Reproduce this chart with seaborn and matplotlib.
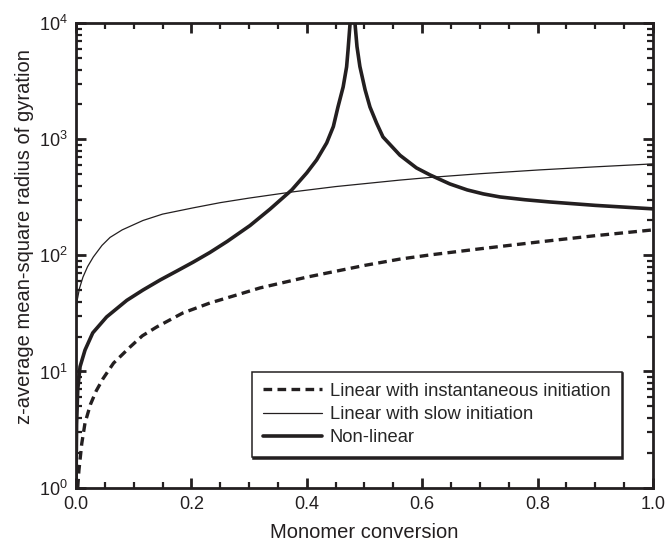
import numpy as np
import pandas as pd
import matplotlib
matplotlib.use("Agg")
import matplotlib.pyplot as plt
import seaborn as sns
from matplotlib.ticker import MultipleLocator, LogLocator

# ---- data ----
x_inst = [0.003, 0.005, 0.01, 0.0156, 0.025, 0.035, 0.047, 0.065, 0.094, 0.115, 0.14, 0.185,
          0.232, 0.279, 0.319, 0.4, 0.5, 0.5615, 0.6135, 0.7, 0.804, 0.9, 1.0]
y_inst = [1.0, 1.4, 2.4, 3.6, 5.2, 6.8, 8.7, 11.8, 16.3, 20.3, 24.2, 31.9,
          38.9, 45.7, 52.5, 65, 82, 93, 101, 114, 131, 148, 166]

x_slow = [0.0, 0.001, 0.002, 0.006, 0.012, 0.02, 0.03, 0.045, 0.059, 0.08, 0.116, 0.15,
          0.203, 0.25, 0.30, 0.374, 0.45, 0.5615, 0.6135, 0.7, 0.804, 0.9, 1.0]
y_slow = [22, 33, 41, 52, 65, 80, 97, 122, 143, 166, 200, 227,
          257, 285, 312, 352, 392, 446, 470, 506, 546, 580, 615]

x_nonlin = [0.0, 0.001, 0.003, 0.007, 0.0156, 0.029, 0.053, 0.088, 0.116, 0.146, 0.175,
            0.203, 0.232, 0.262, 0.29, 0.3016, 0.336, 0.374, 0.40, 0.417, 0.4345, 0.446,
            0.454, 0.463, 0.469, 0.4715, 0.475, 0.479, 0.4835, 0.487, 0.492, 0.501,
            0.5095, 0.521, 0.532, 0.5615, 0.59, 0.6135, 0.648, 0.678, 0.706, 0.735,
            0.778, 0.821, 0.9, 1.0]
y_nonlin = [1.0, 3.5, 7.0, 11, 15.3, 21.5, 29.5, 41, 50.3, 61.5, 73.5,
            87.5, 106, 132, 165, 181, 250, 367, 515, 665, 933, 1290,
            1900, 2830, 4220, 5900, 10000, 30000, 10000, 6300, 4250, 2680,
            1900, 1380, 1050, 730, 568, 494, 413, 367, 339, 319,
            302, 289, 270, 252]

labels = ["Linear with instantaneous initiation", "Linear with slow initiation", "Non-linear"]

sns.set_theme(style="ticks")
plt.rcParams["font.family"] = ["Liberation Sans", "DejaVu Sans"]
plt.rcParams["mathtext.fontset"] = "custom"
plt.rcParams["mathtext.rm"] = "Liberation Sans"

fig = plt.figure(figsize=(6.68, 5.43), dpi=100)
ax = fig.add_axes([0.1138, 0.1022, 0.8637, 0.8548])

ink = "#231f20"
df1 = pd.DataFrame({"x": x_inst, "y": y_inst})
df2 = pd.DataFrame({"x": x_slow, "y": y_slow})
df3 = pd.DataFrame({"x": x_nonlin, "y": y_nonlin})

sns.lineplot(data=df1, x="x", y="y", ax=ax, color=ink, linewidth=2.4, label=labels[0])
ax.lines[-1].set_dashes([2.6, 1.6])
sns.lineplot(data=df2, x="x", y="y", ax=ax, color=ink, linewidth=0.9, label=labels[1])
sns.lineplot(data=df3, x="x", y="y", ax=ax, color=ink, linewidth=2.6, label=labels[2])

ax.set_yscale("log")
ax.set_xlim(0, 1.0)
ax.set_ylim(1, 1e4)
ax.xaxis.set_major_locator(MultipleLocator(0.2))
ax.xaxis.set_minor_locator(MultipleLocator(0.05))
ax.yaxis.set_major_locator(LogLocator(base=10, numticks=10))
ax.yaxis.set_minor_locator(LogLocator(base=10, subs=np.arange(2, 10), numticks=20))
ax.set_xticks([0, 0.2, 0.4, 0.6, 0.8, 1.0])
ax.set_xticklabels(["0.0", "0.2", "0.4", "0.6", "0.8", "1.0"])

for s in ax.spines.values():
    s.set_linewidth(2.0)
    s.set_color(ink)
ax.tick_params(which="both", direction="in", top=True, right=True, colors=ink,
               labelcolor=ink, labelsize=13)
ax.tick_params(which="major", length=7.5, width=2.0, pad=6)
ax.tick_params(which="minor", length=4.5, width=1.6)

ax.set_xlabel("Monomer conversion", fontsize=14.5, color=ink, labelpad=7)
ax.set_ylabel("z-average mean-square radius of gyration", fontsize=14.5, color=ink)
ax.yaxis.set_label_coords(-0.073, 0.54)

leg = ax.legend(loc="lower right", bbox_to_anchor=(0.946, 0.065), fontsize=13.2,
                frameon=True, fancybox=False,
                shadow={"ox": 1.2, "oy": -1.2, "facecolor": ink, "edgecolor": ink, "alpha": 1},
                framealpha=1, edgecolor=ink, handlelength=3.2, handletextpad=0.45,
                borderpad=0.62, labelspacing=0.33, borderaxespad=0)
leg.get_frame().set_linewidth(1.1)

fig.savefig("out.png", dpi=100)
